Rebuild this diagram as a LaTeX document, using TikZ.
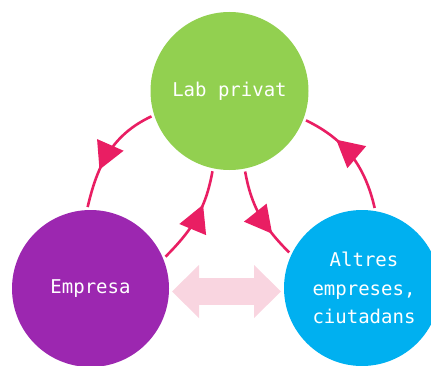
\documentclass[tikz,border=0pt]{standalone}
\usepackage{fontspec}
\setmonofont{DejaVu Sans Mono}
\usetikzlibrary{arrows.meta,decorations.markings}
\definecolor{cgreen}{HTML}{92D050}
\definecolor{cpurple}{HTML}{9C27B0}
\definecolor{cblue}{HTML}{00B0F0}
\definecolor{cline}{HTML}{E91E63}
\definecolor{cpale}{HTML}{F9D5E0}
\begin{document}
\begin{tikzpicture}[x=1pt,y=1pt,
  bubble/.style={circle, inner sep=0pt, outer sep=3pt, text=white,
    font=\ttfamily\fontsize{19}{28.5}\selectfont, align=center},
  flow/.style={draw, color=cline, line width=2.6pt, postaction={decorate},
    decoration={markings, mark=at position #1 with {\arrow{Triangle[length=27pt,width=29pt,line width=0pt]}}}},
  twoway/.style={draw=cpale, color=cpale, line width=27pt,
    {Triangle[length=27pt,width=53pt,line width=0pt]}-{Triangle[length=27pt,width=53pt,line width=0pt]}}
]
\useasboundingbox (0,0) rectangle (431,365);
\node[bubble, fill=cgreen, minimum size=158pt] (g) at (229.5,274) {Lab privat};
\node[bubble, fill=cpurple, minimum size=157pt] (p) at (90.5,76.5) {Empresa};
\node[bubble, fill=cblue, minimum size=156pt] (b) at (362,77) {\hspace*{4pt}Altres\\\hspace*{4pt}empreses,\\\hspace*{4pt}ciutadans};

\draw[flow=0.66] (g.198.5) to[out=205, in=77] (p.92.5);
\draw[flow=0.65] (p.23) to[out=45, in=260] (g.258.5);
\draw[flow=0.73] (g.281) to[out=280, in=135] (b.154);
\draw[flow=0.69] (b.81) to[out=103, in=334] (g.339);

\coordinate (dl) at ([yshift=-3pt]p.east);
\coordinate (dr) at (dl -| b.west);
\draw[twoway] (dl) -- (dr);
\end{tikzpicture}
\end{document}
